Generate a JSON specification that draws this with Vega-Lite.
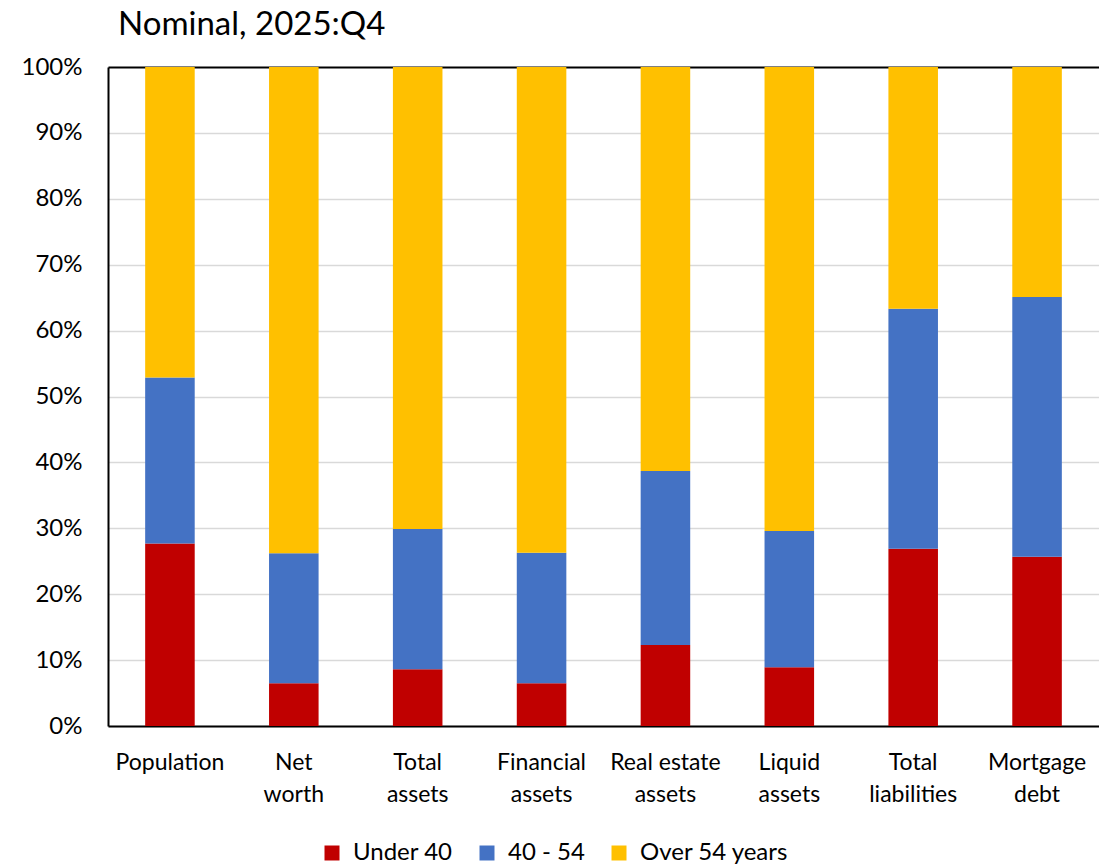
{
  "$schema": "https://vega.github.io/schema/vega-lite/v6.json",
  "width": 991,
  "height": 659,
  "autosize": {"type": "none"},
  "padding": {"left": 108, "top": 67, "right": 0, "bottom": 139},
  "background": "white",
  "title": {
    "text": "Nominal, 2025:Q4",
    "anchor": "start",
    "frame": "group",
    "dx": 10,
    "fontSize": 33,
    "font": "Lato",
    "fontWeight": "normal",
    "color": "black",
    "baseline": "alphabetic",
    "offset": -13
  },
  "config": {
    "view": {"stroke": null},
    "font": "Lato"
  },
  "data": {
    "values": [
      {"category": "Population", "group": "Under 40", "order": 1, "share": 27.7},
      {"category": "Population", "group": "40 - 54", "order": 2, "share": 25.2},
      {"category": "Population", "group": "Over 54 years", "order": 3, "share": 47.1},
      {"category": "Net worth", "group": "Under 40", "order": 1, "share": 6.5},
      {"category": "Net worth", "group": "40 - 54", "order": 2, "share": 19.7},
      {"category": "Net worth", "group": "Over 54 years", "order": 3, "share": 73.8},
      {"category": "Total assets", "group": "Under 40", "order": 1, "share": 8.6},
      {"category": "Total assets", "group": "40 - 54", "order": 2, "share": 21.3},
      {"category": "Total assets", "group": "Over 54 years", "order": 3, "share": 70.1},
      {"category": "Financial assets", "group": "Under 40", "order": 1, "share": 6.5},
      {"category": "Financial assets", "group": "40 - 54", "order": 2, "share": 19.8},
      {"category": "Financial assets", "group": "Over 54 years", "order": 3, "share": 73.7},
      {"category": "Real estate assets", "group": "Under 40", "order": 1, "share": 12.3},
      {"category": "Real estate assets", "group": "40 - 54", "order": 2, "share": 26.4},
      {"category": "Real estate assets", "group": "Over 54 years", "order": 3, "share": 61.3},
      {"category": "Liquid assets", "group": "Under 40", "order": 1, "share": 8.9},
      {"category": "Liquid assets", "group": "40 - 54", "order": 2, "share": 20.7},
      {"category": "Liquid assets", "group": "Over 54 years", "order": 3, "share": 70.4},
      {"category": "Total liabilities", "group": "Under 40", "order": 1, "share": 26.9},
      {"category": "Total liabilities", "group": "40 - 54", "order": 2, "share": 36.4},
      {"category": "Total liabilities", "group": "Over 54 years", "order": 3, "share": 36.7},
      {"category": "Mortgage debt", "group": "Under 40", "order": 1, "share": 25.7},
      {"category": "Mortgage debt", "group": "40 - 54", "order": 2, "share": 39.4},
      {"category": "Mortgage debt", "group": "Over 54 years", "order": 3, "share": 34.9}
    ]
  },
  "mark": {"type": "bar"},
  "encoding": {
    "x": {
      "field": "category",
      "type": "nominal",
      "sort": null,
      "scale": {"paddingInner": 0.6, "paddingOuter": 0.3},
      "axis": {
        "title": null,
        "labelAngle": 0,
        "labelFontSize": 23,
        "labelColor": "black",
        "labelLineHeight": 32,
        "labelPadding": 25,
        "labelBaseline": "top",
        "ticks": false,
        "domainColor": "black",
        "domainWidth": 2,
        "labelExpr": "datum.value == 'Population' ? 'Population' : datum.value == 'Real estate assets' ? ['Real estate', 'assets'] : split(datum.value, ' ')"
      }
    },
    "y": {
      "field": "share",
      "type": "quantitative",
      "stack": "zero",
      "scale": {"domain": [0, 100], "nice": false},
      "axis": {
        "title": null,
        "values": [0, 10, 20, 30, 40, 50, 60, 70, 80, 90, 100],
        "labelExpr": "datum.value + '%'",
        "labelFontSize": 24,
        "labelColor": "black",
        "labelPadding": 26,
        "ticks": false,
        "domainColor": "black",
        "domainWidth": 2,
        "gridColor": {"condition": {"test": "datum.value == 100", "value": "black"}, "value": "#D9D9D9"},
        "gridWidth": {"condition": {"test": "datum.value == 100", "value": 2}, "value": 1.5}
      }
    },
    "color": {
      "field": "group",
      "type": "nominal",
      "scale": {
        "domain": ["Under 40", "40 - 54", "Over 54 years"],
        "range": ["#C00000", "#4472C4", "#FFC000"]
      },
      "legend": {
        "title": null,
        "orient": "none",
        "legendX": 212,
        "legendY": 774,
        "direction": "horizontal",
        "symbolType": "square",
        "symbolSize": 225,
        "symbolStrokeWidth": 0,
        "labelFontSize": 24,
        "labelColor": "black",
        "labelOffset": 9,
        "columnPadding": 22
      }
    },
    "order": {"field": "order", "type": "quantitative"}
  }
}
